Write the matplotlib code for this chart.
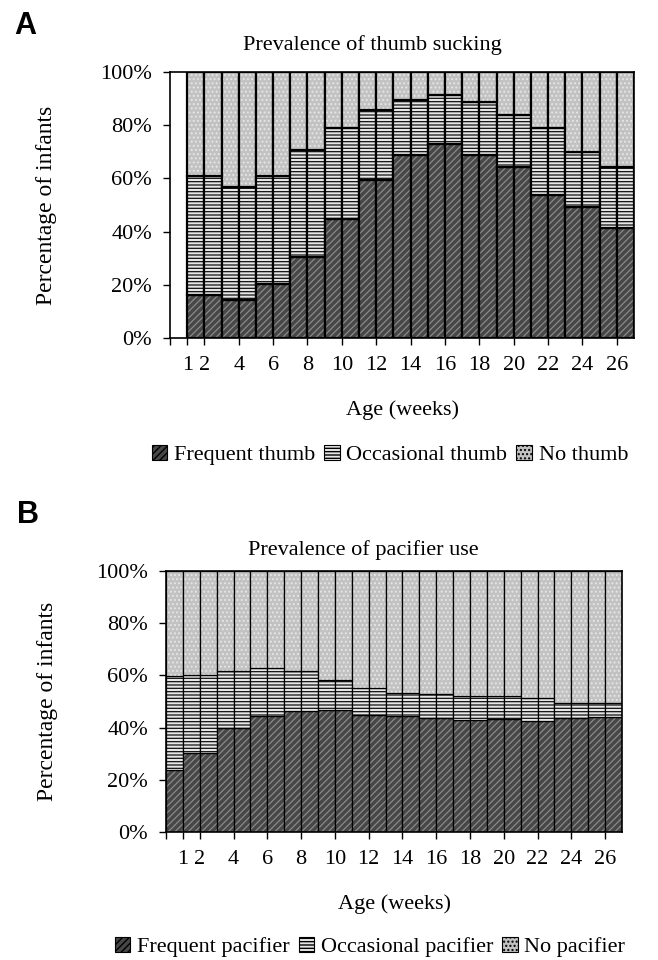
import numpy as np
import matplotlib
matplotlib.use("Agg")
import matplotlib.pyplot as plt
from matplotlib.patches import Patch

plt.rcParams['font.family'] = ['Liberation Serif', 'DejaVu Serif']

# ---------------- data ----------------
weeks = [1, 2, 4, 6, 8, 10, 12, 14, 16, 18, 20, 22, 24, 26]
xtick_labels = ['1', '2', '4', '6', '8', '10', '12', '14', '16', '18', '20', '22', '24', '26']
yticks = [0, 20, 40, 60, 80, 100]

thumb_frequent = [np.nan, 16.2, 14.3, 20.2, 30.5, 44.6, 59.4, 68.7, 72.9, 68.9, 64.4, 53.8, 49.4, 41.2]
thumb_occasional = [np.nan, 44.8, 42.6, 40.8, 40.2, 34.4, 26.3, 20.9, 18.5, 19.9, 19.4, 25.0, 20.6, 23.2]
thumb_none = [np.nan, 39.0, 43.1, 39.0, 29.3, 21.0, 14.3, 10.4, 8.6, 11.2, 16.2, 21.2, 30.0, 35.6]

pacifier_frequent = [23.8, 30.4, 39.7, 44.4, 46.4, 46.7, 44.8, 44.4, 43.6, 42.9, 43.4, 42.6, 43.6, 44.2]
pacifier_occasional = [36.1, 29.9, 21.9, 18.6, 15.3, 11.5, 10.5, 8.7, 9.1, 9.3, 8.7, 8.6, 5.7, 5.3]
pacifier_none = [40.1, 39.7, 38.4, 37.0, 38.3, 41.8, 44.7, 46.9, 47.3, 47.8, 47.9, 48.8, 50.7, 50.5]

thumb_labels = ['Frequent thumb', 'Occasional thumb', 'No thumb']
pacifier_labels = ['Frequent pacifier', 'Occasional pacifier', 'No pacifier']

# styles: (face, hatch, hatch colour)
styles = [
    ('#474747', '/////', '#8a8a8a'),
    ('#e6e6e6', '-----', '#111111'),
    ('#c2c2c2', '....', '#e6e6e6'),
]

W, H = 658, 960
FS = 16
fig = plt.figure(figsize=(W / 100, H / 100), dpi=100)


def columns_for(week):
    # week 1 occupies one column, other weeks two columns around the tick
    if week == 1:
        return [0]
    return [week - 1, week]


def draw_panel(ax, series, edge_lw):
    for i, wk in enumerate(weeks):
        vals = [s[i] for s in series]
        if np.isnan(vals[0]):
            continue
        for c in columns_for(wk):
            bottom = 0
            for v, (face, hatch, hcol) in zip(vals, styles):
                b = ax.bar(c, v, width=1, bottom=bottom, align='edge',
                           color=face, edgecolor=hcol, hatch=hatch, linewidth=0)
                for p in b:
                    try:
                        p.set_hatch_linewidth(0.9)
                    except Exception:
                        pass
                ax.bar(c, v, width=1, bottom=bottom, align='edge',
                       fill=False, edgecolor='black', linewidth=edge_lw)
                bottom += v
    ax.set_xlim(0, max(weeks) + 1)
    ax.set_ylim(0, 100)
    ax.set_yticks(yticks)
    ax.set_yticklabels([f'{t}%' for t in yticks])
    ax.set_xticks([0] + weeks)
    ax.set_xticklabels([''] + xtick_labels)
    ax.tick_params(axis='both', direction='out', length=5, width=1, labelsize=FS)
    ax.tick_params(axis='x', pad=8)
    ax.tick_params(axis='y', pad=8)
    for sp in ax.spines.values():
        sp.set_linewidth(1.2)
    ax.set_xlabel('Age (weeks)', fontsize=FS)
    ax.set_ylabel('Percentage of infants', fontsize=FS + 1)


def add_legend(labels, cx, cy):
    handles = [Patch(facecolor=f, edgecolor='black', hatch=h, linewidth=0.8, label=l)
               for (f, h, hc), l in zip(styles, labels)]
    fig.legend(handles=handles, loc='center', bbox_to_anchor=(cx / W, 1 - cy / H),
               ncol=3, frameon=False, fontsize=FS, handlelength=0.7, handleheight=0.7,
               handletextpad=0.3, columnspacing=0.4, borderpad=0)


# Panel A
axA = fig.add_axes([170 / W, 1 - 338 / H, 464 / W, 266 / H])
draw_panel(axA, [thumb_frequent, thumb_occasional, thumb_none], 1.6)
axA.xaxis.set_label_coords(0.5, -(410 - 338) / 266)
axA.xaxis.label.set_va('center')
axA.yaxis.set_label_coords(-(170 - 47) / 464, 0.5)
axA.yaxis.label.set_va('center')
fig.text(372 / W, 1 - 45 / H, 'Prevalence of thumb sucking', ha='center', va='center', fontsize=FS)
fig.text(25 / W, 1 - 26 / H, 'A', ha='center', va='center', fontsize=22,
         fontweight='bold', family=['Liberation Sans', 'DejaVu Sans'])
add_legend(thumb_labels, 390, 455)

# Panel B
axB = fig.add_axes([166 / W, 1 - 832 / H, 456 / W, 261 / H])
draw_panel(axB, [pacifier_frequent, pacifier_occasional, pacifier_none], 0.9)
axB.xaxis.set_label_coords(0.5, -(904 - 832) / 261)
axB.xaxis.label.set_va('center')
axB.yaxis.set_label_coords(-(166 - 47) / 456, 0.5)
axB.yaxis.label.set_va('center')
fig.text(363 / W, 1 - 550 / H, 'Prevalence of pacifier use', ha='center', va='center', fontsize=FS)
fig.text(28 / W, 1 - 515 / H, 'B', ha='center', va='center', fontsize=22,
         fontweight='bold', family=['Liberation Sans', 'DejaVu Sans'])
add_legend(pacifier_labels, 370, 947)

fig.savefig('out.png', dpi=100)
